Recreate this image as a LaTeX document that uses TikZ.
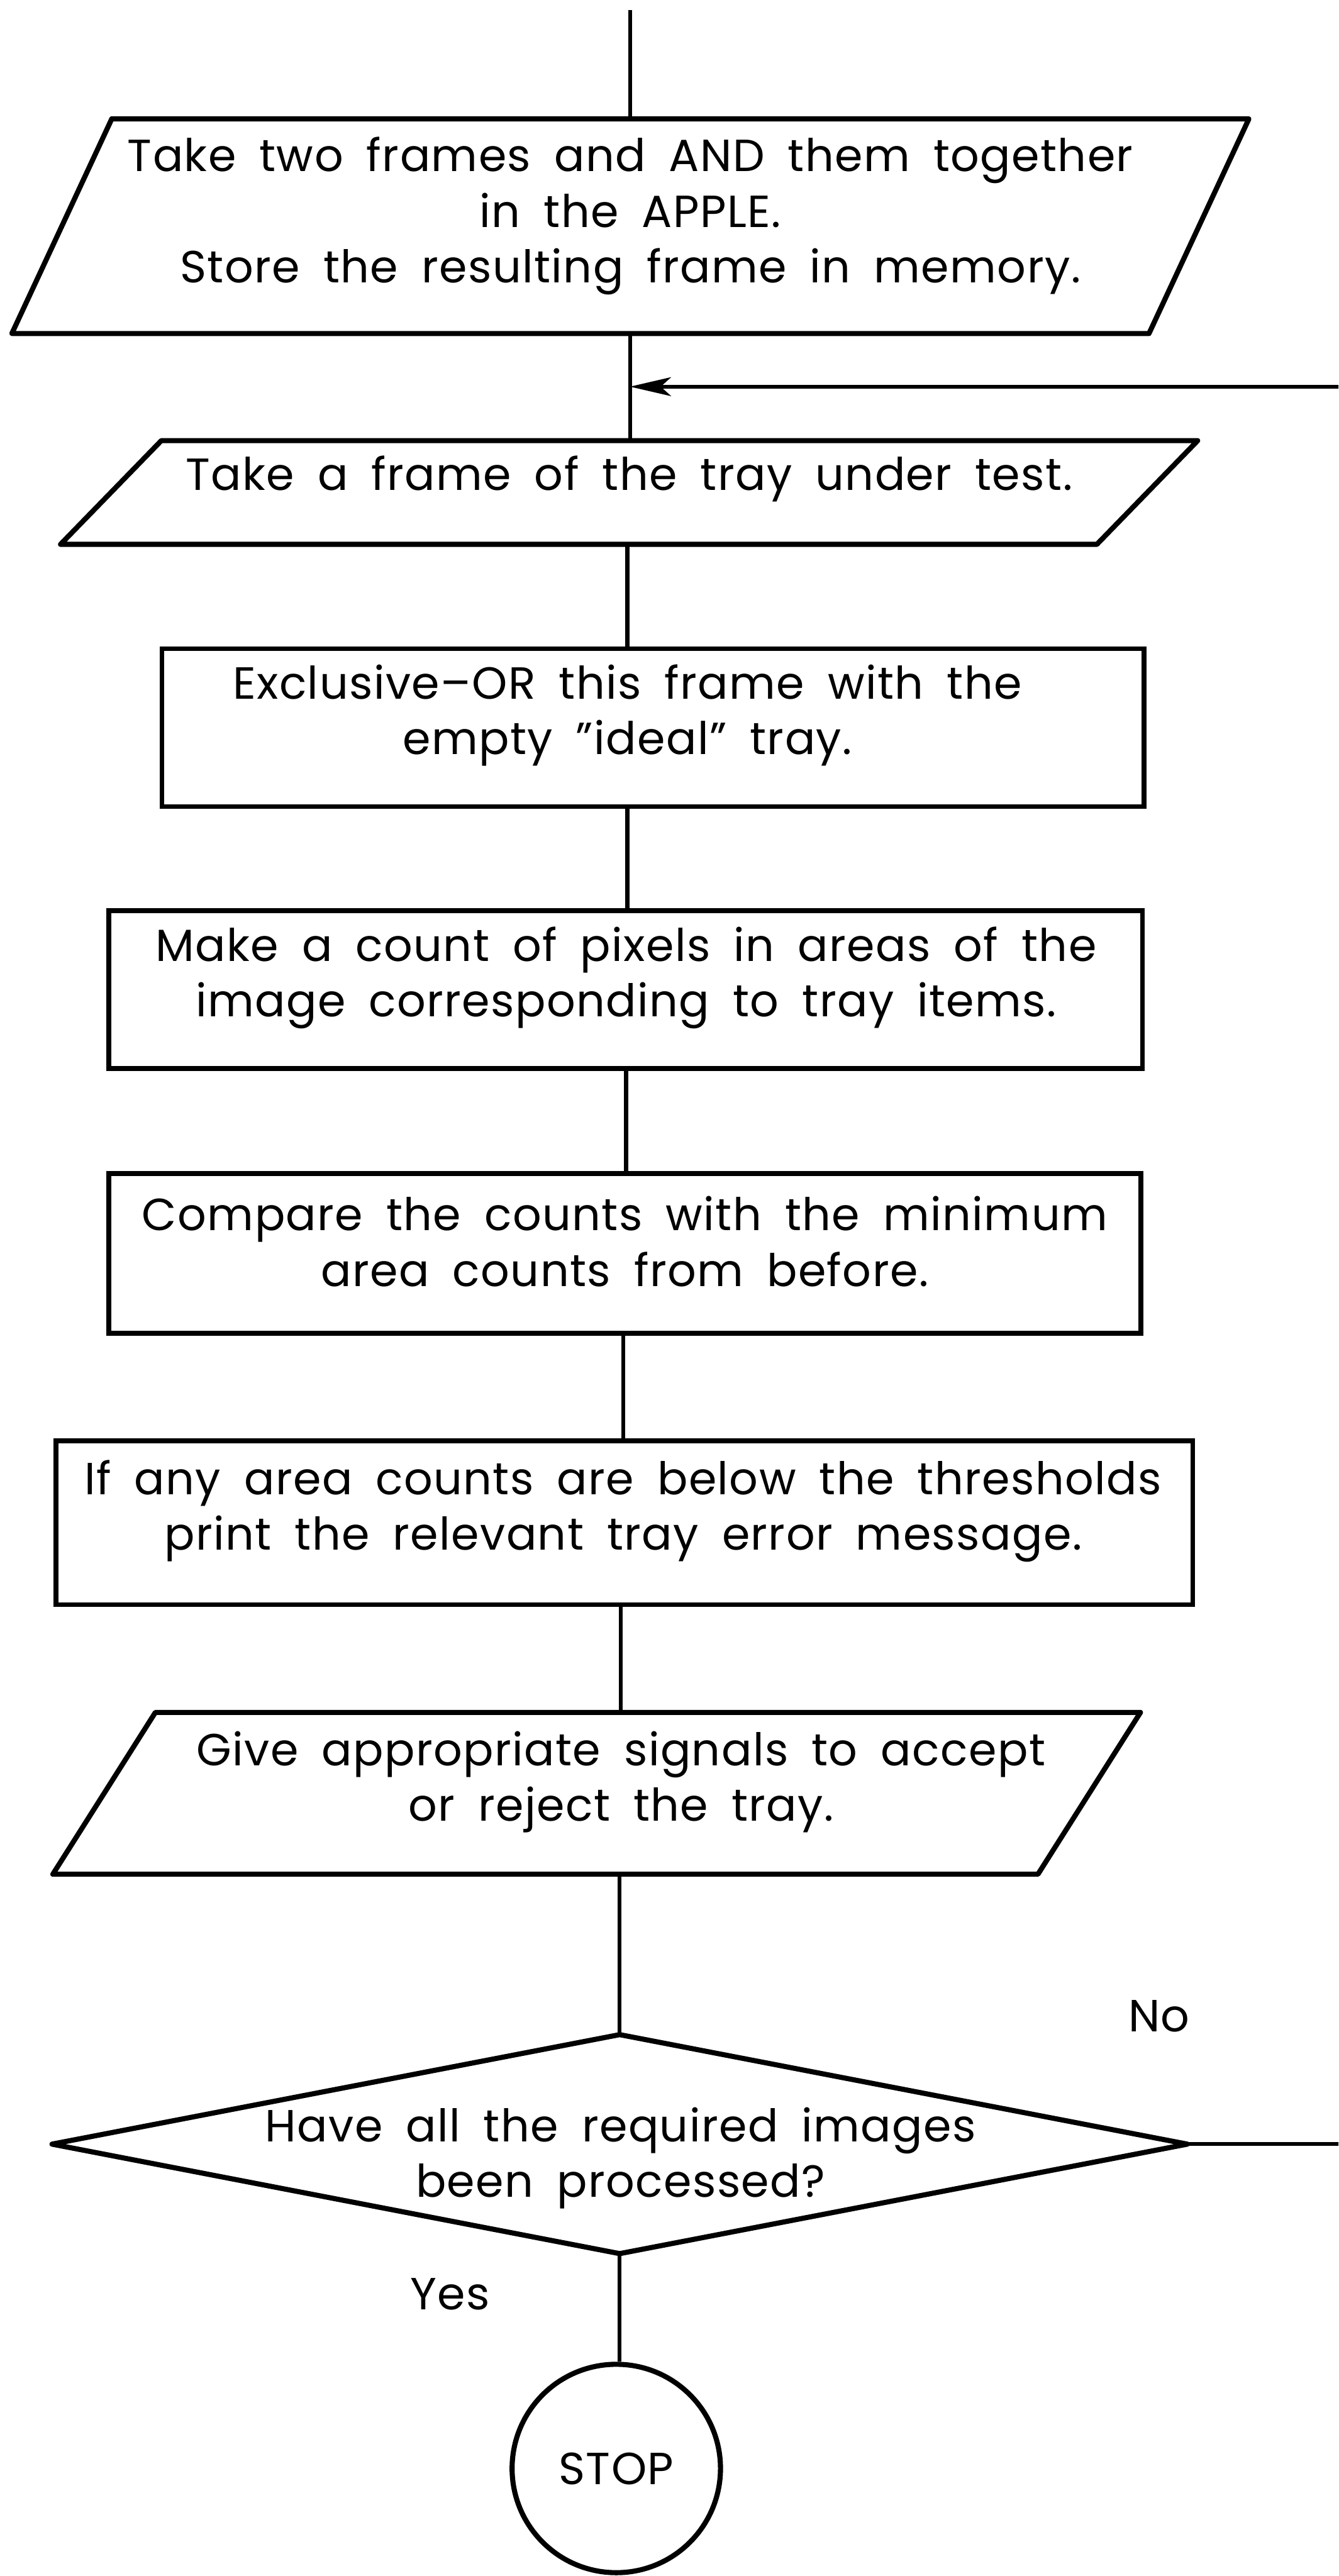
\documentclass[tikz,border=0pt]{standalone}
\usepackage{fontspec}
\setmainfont{Poppins}[WordSpace=1.8, LetterSpace=2]
\usetikzlibrary{arrows.meta}
\begin{document}
\begin{tikzpicture}[x=0.01cm, y=-0.01cm,
  boxframe/.style={draw, line width=1.6pt, inner sep=0pt, rectangle},
  ghost/.style={inner sep=0pt, draw=none, rectangle},
  txt/.style={font=\fontsize{15}{18.5}\selectfont, align=center, inner sep=0pt},
  conn/.style={line width=1.3pt},
  outline/.style={line width=1.7pt, line join=round}]
\useasboundingbox (0,0) rectangle (1568,3018);
\fill[white] (0,0) rectangle (1568,3018);
\clip (0,0) rectangle (1568,3018);

\coordinate (top) at (738,12);
\coordinate (join) at (738,453);

% parallelogram 1
\node[ghost, minimum width=14.47cm, minimum height=2.5cm] (p1) at (738.5,265) {};
\draw[outline] ([xshift=1.17cm]p1.north west) -- (p1.north east) -- ([xshift=-1.17cm]p1.south east) -- (p1.south west) -- cycle;
\node[txt] (p1t) at (738.5,253) {Take two frames and AND them together\\in the APPLE.\\Store the resulting frame in memory.};

% parallelogram 2
\node[ghost, minimum width=13.30cm, minimum height=1.20cm] (p2) at (737,577) {};
\draw[outline] ([xshift=1.18cm]p2.north west) -- (p2.north east) -- ([xshift=-1.18cm]p2.south east) -- (p2.south west) -- cycle;
\node[txt] (p2t) at (737,561) {Take a frame of the tray under test.};

% rectangles
\node[boxframe, minimum width=11.5cm, minimum height=1.85cm] (r1) at (765,852.5) {};
\node[txt] (r1t) at (735,838) {Exclusive--OR this frame with the\\empty \char"22 ideal\char"22\ tray.};

\node[boxframe, minimum width=12.10cm, minimum height=1.85cm] (r2) at (733,1159.5) {};
\node[txt] (r2t) at (733.5,1145.5) {Make a count of pixels in areas of the\\image corresponding to tray items.};

\node[boxframe, minimum width=12.08cm, minimum height=1.87cm] (r3) at (732,1468.5) {};
\node[txt] (r3t) at (732,1454.5) {Compare the counts with the minimum\\area counts from before.};

\node[boxframe, minimum width=13.31cm, minimum height=1.92cm] (r4) at (731.5,1784) {};
\node[txt] (r4t) at (730,1770.5) {If any area counts are below the thresholds\\print the relevant tray error message.};

% parallelogram 3
\node[ghost, minimum width=12.72cm, minimum height=1.88cm] (p3) at (699,2101) {};
\draw[outline] ([xshift=1.20cm]p3.north west) -- (p3.north east) -- ([xshift=-1.20cm]p3.south east) -- (p3.south west) -- cycle;
\node[txt] (p3t) at (727.5,2088) {Give appropriate signals to accept\\or reject the tray.};

% decision
\node[ghost, minimum width=13.28cm, minimum height=2.55cm] (d) at (726,2512) {};
\draw[outline] (d.north) -- (d.east) -- (d.south) -- (d.west) -- cycle;
\node[txt] (dt) at (727,2528.5) {Have all the required images\\been processed?};

% stop
\node[draw, circle, line width=1.7pt, minimum size=2.44cm, inner sep=0pt, font=\fontsize{15}{18.5}\selectfont] (stop) at (722,2892) {STOP};

% labels
\node[txt] (no) at (1358,2362) {No};
\node[txt] (yes) at (527,2688) {Yes};

% connectors
\draw[conn] (top) -- (top |- p1.north);
\draw[conn] (join |- p1.south) -- (join |- p2.north);
\draw[conn] (r1t |- p2.south) -- (r1t |- r1.north);
\draw[conn] (r1t |- r1.south) -- (r1t |- r2.north);
\draw[conn] (r2t |- r2.south) -- (r2t |- r3.north);
\draw[conn] (r4t |- r3.south) -- (r4t |- r4.north);
\draw[conn] (p3t |- r4.south) -- (p3t |- p3.north);
\draw[conn] (d.north |- p3.south) -- (d.north);
\draw[conn] (d.south) -- (d.south |- stop.north);
\draw[conn, -{Stealth[length=4.8mm, width=2.2mm, inset=1.2mm]}] (d.east) -- (1640,2512) |- (join);
\end{tikzpicture}
\end{document}
